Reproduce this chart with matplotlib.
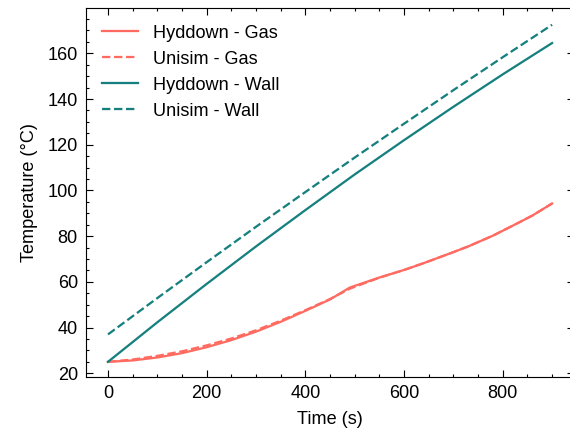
import matplotlib.pyplot as plt
from matplotlib.ticker import MultipleLocator

# data
t_hyd_gas = [0, 50, 100, 150, 200, 250, 300, 350, 400, 450, 490, 550, 600, 640, 700, 730, 780, 815, 860, 900]
T_hyd_gas = [25.0, 25.6, 26.9, 28.8, 31.4, 34.5, 38.2, 42.5, 47.3, 52.3, 57.5, 61.9, 65.2, 68.2, 73.0, 75.5, 80.2, 84.0, 89.0, 94.3]

t_uni_gas = [0, 50, 100, 150, 200, 250, 300, 350, 400, 450, 490, 550, 600, 640, 700, 730, 780, 815, 860, 900]
T_uni_gas = [25.0, 26.0, 27.6, 29.6, 32.2, 35.2, 38.8, 43.0, 47.6, 52.5, 57.0, 61.8, 65.2, 68.2, 73.0, 75.5, 80.2, 84.0, 89.0, 94.3]

t_hyd_wall = [0, 100, 200, 300, 400, 500, 600, 700, 800, 900]
T_hyd_wall = [25.0, 42.3, 59.1, 75.5, 91.4, 107.0, 122.0, 136.6, 150.8, 164.5]

t_uni_wall = [0, 100, 200, 300, 400, 500, 600, 700, 800, 900]
T_uni_wall = [37.0, 52.9, 68.6, 84.1, 99.3, 114.4, 129.2, 143.9, 158.3, 172.5]

red = '#FF6B61'
teal = '#16807F'

plt.rcParams['font.family'] = ['Liberation Sans', 'DejaVu Sans']
plt.rcParams['font.size'] = 8
plt.rcParams['axes.linewidth'] = 0.5

dpi = 163
fig = plt.figure(figsize=(570 / dpi, 438 / dpi), dpi=dpi)
ax = fig.add_axes([0.1505, 0.14, 0.857, 0.841])

ax.plot(t_hyd_gas, T_hyd_gas, color=red, lw=1.0, label='Hyddown - Gas')
ax.plot(t_uni_gas, T_uni_gas, color=red, lw=1.0, ls='--', label='Unisim - Gas')
ax.plot(t_hyd_wall, T_hyd_wall, color=teal, lw=1.0, label='Hyddown - Wall')
ax.plot(t_uni_wall, T_uni_wall, color=teal, lw=1.0, ls='--', label='Unisim - Wall')

ax.set_xlim(-45, 945)
ax.set_ylim(18.5, 179.7)
ax.xaxis.set_major_locator(MultipleLocator(200))
ax.xaxis.set_minor_locator(MultipleLocator(50))
ax.yaxis.set_major_locator(MultipleLocator(20))
ax.yaxis.set_minor_locator(MultipleLocator(5))
ax.tick_params(which='both', direction='in', top=True, right=True, width=0.5)
ax.tick_params(which='major', length=3)
ax.tick_params(which='minor', length=1.5)

ax.set_xlabel('Time (s)')
ax.set_ylabel('Temperature (°C)')
ax.legend(loc='upper left', frameon=False)

fig.savefig('out.png', dpi=dpi)
